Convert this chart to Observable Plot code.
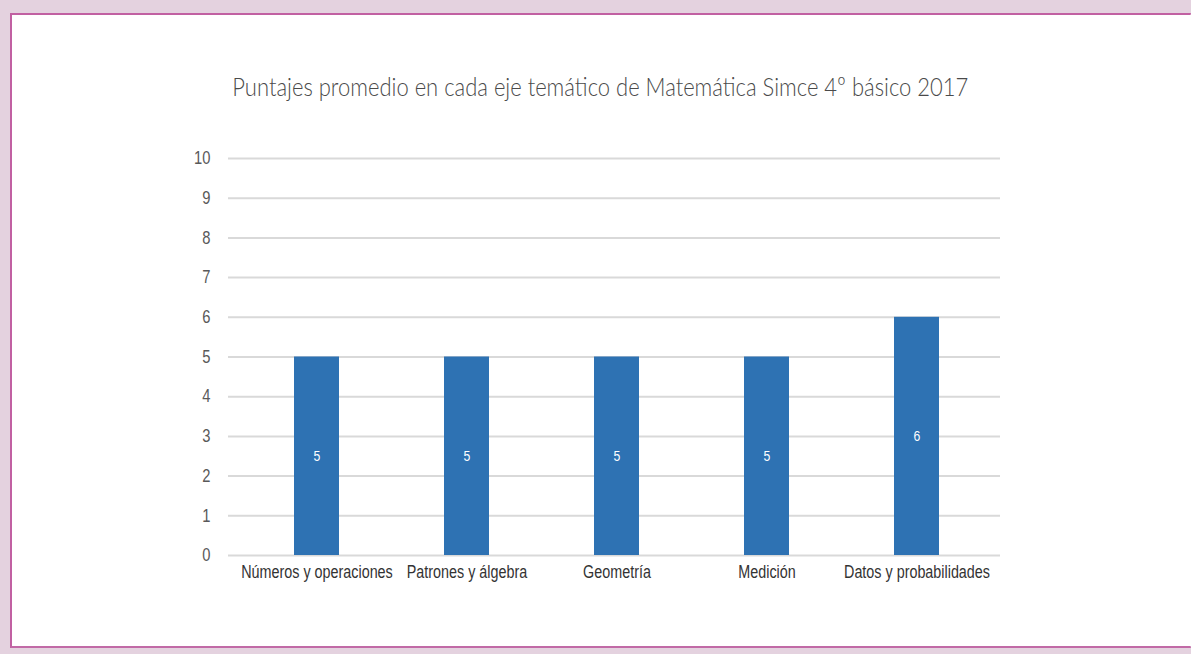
<!DOCTYPE html>
<html>
<head>
<meta charset="utf-8">
<script src="https://cdn.jsdelivr.net/npm/d3@7"></script>
<script src="https://cdn.jsdelivr.net/npm/@observablehq/plot@0.6"></script>
<style>
  html, body { margin: 0; padding: 0; }
  body { width: 1191px; height: 654px; background: #e4d2df; position: relative; overflow: hidden; }
  #frame { position: absolute; left: 10px; top: 13px; width: 1178px; height: 631px; background: #fff;
    border-top: 2px solid #c160a2; border-left: 2px solid #c160a2; border-bottom: 2px solid #c16aa6; border-right: 1px solid #d9a6c9; }
  #rightfill { position: absolute; left: 1190px; top: 15px; width: 1px; height: 631px; background: #fff; }
  #title { position: absolute; left: 9px; top: 70px; width: 1182px; text-align: center; white-space: nowrap; }
  #title span { display: inline-block; font-family: Lato, "Open Sans", sans-serif; font-weight: 300; font-size: 26px; color: #4a4a4a; transform-origin: center; }
  #chart { position: absolute; left: 0; top: 0; }
</style>
</head>
<body>
<div id="frame"></div>
<div id="rightfill"></div>
<div id="title"><span id="titletext">Puntajes promedio en cada eje temático de Matemática Simce 4º básico 2017</span></div>
<div id="chart"></div>
<script>
const categories = ["Números y operaciones", "Patrones y álgebra", "Geometría", "Medición", "Datos y probabilidades"];
const values = [5, 5, 5, 5, 6];
const yTicks = [0, 1, 2, 3, 4, 5, 6, 7, 8, 9, 10];

const data = categories.map((c, i) => ({ category: c, value: values[i] }));

// fit title width
const t = document.getElementById("titletext");
const w = t.getBoundingClientRect().width;
t.style.transform = `scaleX(${736 / w})`;

const font = '"Liberation Sans", Arial, sans-serif';

const chart = Plot.plot({
  width: 1191,
  height: 654,
  marginLeft: 228,
  marginRight: 191,
  marginTop: 158,
  marginBottom: 99,
  style: { background: "transparent", fontFamily: font },
  x: { domain: categories, paddingInner: 0.7, paddingOuter: 0.35, insetLeft: 12, insetRight: 7, label: null },
  y: { domain: [0, 10], ticks: yTicks, label: null },
  marks: [
    Plot.ruleY(yTicks, { stroke: "#d9d9d9", strokeWidth: 2 }),
    Plot.barY(data, { x: "category", y: "value", fill: "#2e72b3" }),
    Plot.text(data, { x: "category", y: d => d.value / 2, text: d => String(d.value), fill: "#ffffff", fontSize: 15, fontFamily: font, className: "narrow" }),
    Plot.axisY({ ticks: yTicks, tickSize: 0, tickPadding: 18, fontSize: 18, color: "#595959", label: null, tickFormat: d => String(d), className: "narrow" }),
    Plot.axisX({ tickSize: 0, tickPadding: 10, fontSize: 17.5, color: "#333333", label: null, className: "narrow" })
  ]
});
document.getElementById("chart").appendChild(chart);

// narrow the glyphs (Arial Narrow look) around each label's anchor
chart.querySelectorAll("g.narrow text, .narrow text").forEach(el => {
  const tr = el.getAttribute("transform") || "";
  el.setAttribute("transform", tr + " scale(0.82,1)");
});
</script>
</body>
</html>
